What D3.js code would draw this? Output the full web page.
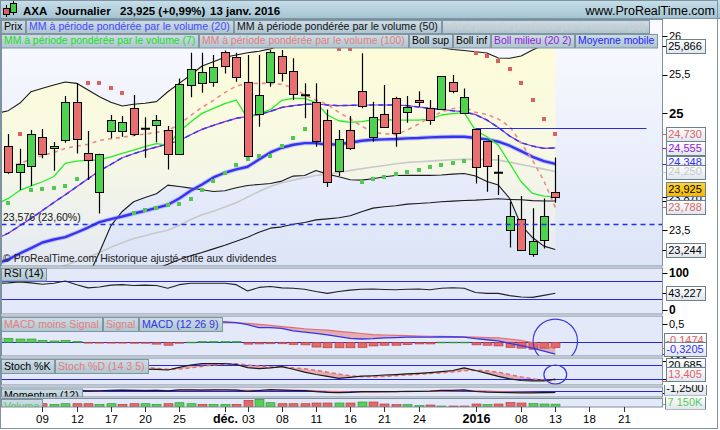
<!DOCTYPE html>
<html><head><meta charset="utf-8">
<script src="https://cdn.jsdelivr.net/npm/d3@7/dist/d3.min.js"></script>
<style>html,body{margin:0;padding:0;background:#fff}svg{display:block}</style>
</head><body>
<script>
// ---------------- DATA ----------------
const dates = ["03/11","04/11","05/11","06/11","09/11","10/11","11/11","12/11","13/11","16/11","17/11","18/11","19/11","20/11","23/11","24/11","25/11","26/11","27/11","30/11","01/12","02/12","03/12","04/12","07/12","08/12","09/12","10/12","11/12","14/12","15/12","16/12","17/12","18/12","21/12","22/12","23/12","24/12","28/12","29/12","30/12","31/12","04/01","05/01","06/01","07/01","08/01","11/01","12/01","13/01"];
const open  = [24.55,24.583,24.239,24.317,24.699,24.548,24.656,25.141,24.483,23.98,24.767,24.775,25.064,24.80,24.845,24.78,24.471,25.36,25.394,25.407,25.794,25.72,25.398,24.991,25.407,25.738,25.55,25.231,25.141,24.913,24.251,24.78,25.283,24.69,24.986,25.192,25.012,25.175,25.064,25.051,25.399,25.008,24.797,24.642,24.234,23.49,23.632,23.193,23.365,23.98];
const high  = [24.8,24.733,24.544,24.785,24.797,24.63,25.223,25.386,24.771,24.479,24.978,24.965,25.236,24.948,24.978,24.836,25.45,25.781,25.781,25.75,25.81,25.78,25.75,25.75,25.815,25.815,25.708,25.386,25.386,25.05,24.784,24.965,25.773,25.15,25.365,25.214,25.223,25.283,25.171,25.476,25.494,25.321,24.797,24.642,24.462,23.86,23.933,23.778,23.903,24.431];
const low   = [24.4,24.22,24.012,24.063,24.42,24.26,24.621,24.483,24.14,23.71,24.677,24.698,24.707,24.428,24.626,24.277,24.471,25.206,25.266,25.343,25.514,25.407,24.44,24.827,25.343,25.41,25.171,24.935,24.57,24.05,24.191,24.526,25.064,24.634,24.81,24.569,24.879,25.085,24.853,25.051,25.257,25.0,24.096,23.988,23.946,23.27,23.232,23.15,23.258,23.847];
const close = [24.6,24.239,24.347,24.729,24.471,24.574,25.141,24.664,24.393,24.479,24.909,24.887,24.729,24.80,24.913,24.471,25.373,25.567,25.527,25.591,25.609,25.471,24.449,25.236,25.785,25.514,25.249,25.231,24.643,24.119,24.664,24.548,25.098,24.956,24.827,24.741,25.076,25.15,24.909,25.476,25.283,25.205,24.311,24.324,24.234,23.675,23.232,23.348,23.675,23.925];
const volume = [7500,7500,7500,7500,8250,6750,8250,8250,8250,6750,8250,6750,8250,8250,6750,8250,10750,8250,6750,6750,6750,6750,16750,19250,10750,8250,8250,8250,10000,10000,10000,10000,12500,12500,7500,6250,6250,3750,5000,2500,2500,2500,7500,6250,7500,11250,10000,8750,7500,7150];
const sar = [null,23.847,24.732,24.01,24.019,24.04,24.066,24.148,25.386,25.386,25.322,25.257,23.718,23.752,23.782,23.812,23.834,23.902,24.014,24.13,24.229,24.328,24.414,24.453,24.453,24.582,24.685,24.801,24.92,null,25.83,25.824,24.118,24.156,24.182,24.221,24.247,24.272,24.311,24.337,24.363,24.388,25.782,25.739,25.678,25.575,25.395,25.171,24.93,24.73];
const movingAvg = [23.064,23.116,23.193,23.262,23.335,23.374,23.404,23.464,23.528,23.597,23.636,23.67,23.709,23.743,23.782,23.821,23.902,24.001,24.083,24.173,24.234,24.277,24.311,24.406,24.496,24.556,24.595,24.616,24.616,24.595,24.603,24.62,24.646,24.659,24.664,24.668,24.677,24.681,24.69,24.694,24.698,24.698,24.681,24.664,24.634,24.582,24.513,24.44,24.384,24.348];
const mmVol20 = [23.387,23.455,23.55,23.645,23.748,23.851,23.95,24.053,24.156,24.259,24.341,24.427,24.479,24.526,24.565,24.608,24.646,24.724,24.793,24.844,24.892,24.935,24.96,24.986,25.025,25.076,25.098,25.115,25.12,25.107,25.098,25.102,25.107,25.107,25.107,25.107,25.098,25.081,25.064,25.051,25.033,25.02,24.982,24.913,24.818,24.707,24.621,24.578,24.548,24.555];
const mmVol7 = [23.83,23.903,24.006,24.066,24.118,24.186,24.354,24.384,24.393,24.401,24.44,24.483,24.526,24.569,24.608,24.59,24.762,24.887,24.999,25.064,25.124,25.171,24.935,24.999,25.046,25.167,25.192,25.192,25.137,24.978,24.904,24.883,24.892,24.917,24.917,24.913,24.913,24.913,24.926,24.978,24.995,25.008,24.78,24.698,24.59,24.354,24.118,23.967,23.933,23.924];
const mmVol100 = [null,24.302,24.354,24.406,24.457,24.496,24.548,24.578,24.6,24.651,24.672,24.69,24.715,24.732,24.754,24.78,24.853,24.973,25.076,25.167,25.266,25.352,25.382,25.386,25.386,25.373,25.326,25.236,25.171,25.115,25.012,24.926,24.836,24.754,24.737,24.724,24.784,24.861,24.947,25.016,25.059,25.081,25.012,24.986,24.926,24.827,24.616,24.397,24.13,23.788];
const bollSup = [24.999,25.034,25.129,25.278,25.322,25.365,25.403,25.386,25.3,25.214,25.142,25.094,25.116,25.129,25.15,25.278,25.386,25.494,25.61,25.665,25.722,25.751,25.781,25.799,25.83,25.88,25.93,25.96,26.0,26.02,26.05,26.05,26.05,26.02,25.98,25.95,25.92,25.87,25.86,25.845,25.822,25.81,25.794,25.777,25.713,25.709,25.738,25.816,25.88,25.866];
const bollInf = [22.9,22.85,22.8,22.75,22.7,22.65,22.6,22.6,22.89,23.21,23.55,23.735,23.86,23.915,23.963,24.075,24.057,24.036,24.014,23.993,24.001,24.04,24.07,24.083,24.096,24.126,24.191,24.199,24.264,24.216,24.182,24.143,24.139,24.156,24.182,24.199,24.2,24.2,24.2,24.204,24.216,24.225,24.191,24.122,24.075,23.902,23.558,23.399,23.288,23.244];
const mmVol50 = [22.4,22.45,22.5,22.55,22.6,22.65,22.7,22.74,22.78,22.82,22.86,22.9,22.94,22.97,23.0,23.055,23.116,23.163,23.206,23.253,23.3,23.352,23.404,23.468,23.52,23.537,23.571,23.593,23.627,23.64,23.653,23.679,23.731,23.778,23.795,23.808,23.83,23.838,23.847,23.86,23.868,23.877,23.881,23.89,23.898,23.89,23.885,23.875,23.87,23.87];
const mmVol30 = [22.8,22.85,22.88,22.92,22.96,23.0,23.043,23.094,23.146,23.206,23.275,23.331,23.387,23.421,23.46,23.494,23.558,23.632,23.692,23.739,23.791,23.847,23.92,23.993,24.057,24.105,24.139,24.169,24.199,24.216,24.238,24.264,24.285,24.307,24.328,24.35,24.367,24.376,24.384,24.393,24.401,24.406,24.406,24.405,24.397,24.371,24.341,24.311,24.281,24.25];
const rsi = [65,66,68,66,63,65,70,62,55,57,61,62,60,61,60,54,62,65,65,65,65,62,48,56,58,55,54,52,47,43,47,50,52,52.5,51.5,51,52,52.5,51,54,55.4,54,45,43,43,38,35,34.3,38.5,43.227];
const macd = [0.42,0.42,0.42,0.45,0.45,0.45,0.5,0.48,0.44,0.43,0.45,0.46,0.45,0.45,0.45,0.41,0.47,0.52,0.55,0.56,0.56,0.54,0.48,0.40,0.40,0.38,0.31,0.28,0.245,0.2,0.153,0.11,0.09,0.1,0.12,0.13,0.14,0.14,0.14,0.145,0.145,0.14,0.1,0.07,0.04,-0.03,-0.09,-0.16,-0.24,-0.3205];
const macdSignal = [0.29,0.31,0.33,0.36,0.39,0.41,0.43,0.44,0.45,0.45,0.45,0.45,0.45,0.45,0.46,0.46,0.47,0.49,0.51,0.525,0.53,0.53,0.52,0.49,0.46,0.43,0.4,0.37,0.35,0.33,0.3,0.27,0.24,0.21,0.2,0.19,0.18,0.17,0.165,0.16,0.155,0.15,0.14,0.13,0.12,0.09,0.05,-0.01,-0.09,-0.1731];
const macdHist = [0.12,0.11,0.09,0.09,0.055,0.036,0.055,0.027,-0.02,-0.02,-0.02,-0.02,-0.025,-0.025,-0.05,-0.08,-0.025,0.005,0.025,0.025,0.025,0.025,-0.05,-0.045,-0.04,-0.04,-0.06,-0.07,-0.13,-0.15,-0.15,-0.15,-0.14,-0.1,-0.08,-0.08,-0.065,-0.045,-0.045,0.005,0.005,0.005,-0.07,-0.08,-0.1,-0.14,-0.16,-0.19,-0.16,-0.1474];
const stochK = [85,85,80,88,82,80,92,78,65,70,80,78,70,63,62,59,70,80,86,86,86,82,69,65,68,73,62,50,40,32,24,28,33,35,38,40,43,45,48,52,57,68,57,45,32,22,15,13,13,20.685];
const stochD = [82,82,83,84,84,83,85,83,78,74,74,75,75,70,66,62,63,68,74,80,84,85,80,76,72,71,68,64,58,50,42,35,31,30,32,35,38,41,44,47,51,56,58,56,50,40,30,22,16,13.405];
const momentum = [0.3,0.3,0.1,0.5,0.3,0.2,0.8,0.4,0.1,0.2,0.6,0.7,0.5,0.3,0.5,0.1,0.9,0.9,0.8,1.0,0.9,0.7,-0.2,0.4,1.1,0.8,0.4,0.3,-0.6,-1.2,-1.3,-1.2,-0.6,-0.4,-0.5,-0.6,-0.2,-0.3,-0.1,0.5,0.6,0.9,-0.4,-1.0,-1.1,-1.3,-1.6,-1.5,-1.3,-1.25];
const momentumSig = [0.3,0.3,0.25,0.3,0.3,0.3,0.4,0.45,0.4,0.35,0.4,0.45,0.5,0.45,0.45,0.4,0.5,0.6,0.7,0.8,0.85,0.85,0.6,0.55,0.6,0.7,0.65,0.55,0.2,-0.2,-0.6,-0.9,-1.0,-0.9,-0.7,-0.6,-0.45,-0.4,-0.3,-0.1,0.1,0.3,0.2,-0.1,-0.4,-0.7,-1.0,-1.2,-1.35,-1.35];
const xTickIdx = [4,7,10,13,16,20,22,25,28,31,34,37,42,46,49,52,55];
const xTickLab = ["09","12","17","20","25","déc.","03","08","11","16","21","24","2016","08","13","18","21"];
const xTickBold = ["déc.","2016"];
const priceTicks = [23.5,25,25.5,26];
const priceTickBold = [25];
const supportLevel = 23.576, supportLabel = "23,576 (23,60%)";
const trendLevel = 24.807, trendFrom = 42, trendTo = 57;
const title = {sym:"AXA", per:"Journalier", px:"23,925 (+0,99%)", date:"13 janv. 2016"};
const legend1 = ["Prix","MM à période pondérée par le volume (20)","MM à période pondérée par le volume (50)","MM à période pondérée par le volume (30)"];
const legend2 = ["MM à période pondérée par le volume (7)","MM à période pondérée par le volume (100)","Boll sup","Boll inf","Boll milieu (20 2)","Moyenne mobile"];

// ---------------- SETUP ----------------
const FONT = "'Liberation Sans', Arial, Helvetica, sans-serif";
const svg = d3.select("body").append("svg").attr("width",720).attr("height",430).attr("font-family",FONT);
const defs = svg.append("defs");
function grad(id, stops, y1, y2, user){
  const g = defs.append("linearGradient").attr("id",id).attr("x1",0).attr("x2",0).attr("y1",y1).attr("y2",y2);
  if(user) g.attr("gradientUnits","userSpaceOnUse");
  stops.forEach(s=>g.append("stop").attr("offset",s[0]).attr("stop-color",s[1]).attr("stop-opacity",s[2]==null?1:s[2]));
}
grad("hdr",[[0,"#c8dfe9"],[1,"#a3c3d1"]],0,1);
grad("leg",[[0,"#cddde5"],[1,"#adc4cf"]],0,1);
grad("mainbg",[[0,"#fbfbff"],[1,"#dce4f7"]],19,266,true);
grad("band",[[0,"#fdfdd6",1],[0.55,"#fbfbdc",0.75],[1,"#f7f7e4",0.25]],19,266,true);
grad("vbox",[[0,"#ffffff"],[1,"#dfe6ee"]],0,1);
grad("gold",[[0,"#ffd633"],[1,"#f5b800"]],0,1);

const XL = 1.5, XR = 662.5;
const panels = {main:[19.5,266], rsi:[268,314], macd:[316,356], stoch:[358,385], mom:[387,397], vol:[398.5,407]};
Object.entries(panels).forEach(([k,[a,b]])=>{
  defs.append("clipPath").attr("id","clip-"+k).append("rect").attr("x",XL).attr("y",a).attr("width",XR-XL).attr("height",b-a);
});
const x = d3.scaleLinear().domain([1,49]).range([8.3,555.3]);
const yMain = d3.scaleLinear().domain([23.5,25]).range([229.7,113.3]);
const yRsi = d3.scaleLinear().domain([30,70]).range([299.3,281]);
const yMacd = d3.scaleLinear().domain([0,0.5]).range([342.3,324]);
const yStoch = d3.scaleLinear().domain([20,80]).range([379.3,365]);
const yMom = d3.scaleLinear().domain([0,1]).range([391,389.8]);
const yVol = d3.scaleLinear().domain([0,21000]).range([407,398.6]);
const fmt = (v,d)=> (v<0?"-":"") + Math.abs(v).toFixed(d).replace(".",",");
const px = v => Math.round(v)+0.5;

svg.append("rect").attr("width",720).attr("height",430).attr("fill","#ffffff");

// header
svg.append("rect").attr("x",0).attr("y",0).attr("width",720).attr("height",19).attr("fill","url(#hdr)");
svg.append("line").attr("x1",0).attr("x2",720).attr("y1",18.5).attr("y2",18.5).attr("stroke","#7d94a1");
const icon = svg.append("g");
icon.append("line").attr("x1",6.5).attr("x2",6.5).attr("y1",5).attr("y2",17).attr("stroke","#000");
icon.append("rect").attr("x",3.5).attr("y",8.5).attr("width",6).attr("height",6).attr("fill","#e06060").attr("stroke","#000");
icon.append("line").attr("x1",13.5).attr("x2",13.5).attr("y1",1).attr("y2",15).attr("stroke","#000");
icon.append("rect").attr("x",10.5).attr("y",3.5).attr("width",6).attr("height",9).attr("fill","#44cc44").attr("stroke","#000");
const ht = svg.append("g").attr("font-weight","bold").attr("font-size",11.5).attr("fill","#000");
ht.append("text").attr("x",23).attr("y",15).text(title.sym);
ht.append("text").attr("x",55).attr("y",15).text(title.per);
ht.append("text").attr("x",120).attr("y",15).text(title.px);
ht.append("text").attr("x",210).attr("y",15).text(title.date);
svg.append("text").attr("x",715).attr("y",15).attr("text-anchor","end").attr("font-size",12.5).attr("fill","#000").text("www.ProRealTime.com");

// panel backgrounds
Object.entries(panels).forEach(([k,[a,b]])=>{
  svg.append("rect").attr("x",XL).attr("y",a).attr("width",XR-XL).attr("height",b-a)
    .attr("fill", k==="main" ? "url(#mainbg)" : "#e3e9f9").attr("stroke","none");
});

// ---------------- MAIN PANEL ----------------
const gm = svg.append("g").attr("clip-path","url(#clip-main)");
const lineOf = (ys, arr) => d3.line().defined(d=>d!=null).x((d,i)=>x(i)).y(d=>ys(d))(arr);
gm.append("path").attr("d", d3.area().x((d,i)=>x(i)).y0((d,i)=>yMain(bollInf[i])).y1((d,i)=>yMain(bollSup[i]))(close))
  .attr("fill","url(#band)");
const addLine = (g, ys, arr, stroke, w, dash, op) => g.append("path").attr("d", lineOf(ys, arr)).attr("fill","none")
  .attr("stroke",stroke).attr("stroke-width",w).attr("stroke-dasharray",dash||null).attr("stroke-opacity",op==null?1:op).attr("stroke-linejoin","round");
addLine(gm, yMain, mmVol30, "#c9c9c9", 1.6);
addLine(gm, yMain, mmVol50, "#1a1a1a", 1.1);
addLine(gm, yMain, bollSup, "#1a1a1a", 1.1);
addLine(gm, yMain, bollInf, "#1a1a1a", 1.1);
addLine(gm, yMain, movingAvg, "#8888ff", 4.5, null, 0.45);
addLine(gm, yMain, movingAvg, "#3535f0", 2.4);
addLine(gm, yMain, mmVol20, "#9a2ad0", 1.2);
addLine(gm, yMain, mmVol20, "#2b3cf0", 1.5, "5,4");
addLine(gm, yMain, mmVol7, "#22ee22", 1.3);
addLine(gm, yMain, mmVol100, "#ec8a8a", 1.6, "4,4");
// SAR
gm.selectAll("rect.sar").data(sar.map((v,i)=>({v,i})).filter(d=>d.v!=null)).enter().append("rect")
  .attr("x",d=>Math.round(x(d.i))-2).attr("y",d=>Math.round(yMain(d.v))-2).attr("width",4).attr("height",4)
  .attr("fill",d=> d.v>close[d.i] ? "#e05e5e" : "#4fc94f");
// candles
close.forEach((c,i)=>{
  const o = open[i], cx = px(x(i));
  gm.append("line").attr("x1",cx).attr("x2",cx).attr("y1",yMain(high[i])).attr("y2",yMain(low[i])).attr("stroke","#000").attr("stroke-width",1.2);
  if (o===c){
    gm.append("line").attr("x1",cx-4.5).attr("x2",cx+4.5).attr("y1",yMain(c)).attr("y2",yMain(c)).attr("stroke","#000").attr("stroke-width",2);
  } else {
    const yt = Math.round(yMain(Math.max(o,c)))+0.5, yb = Math.round(yMain(Math.min(o,c)))+0.5;
    gm.append("rect").attr("x",cx-4).attr("y",yt).attr("width",8).attr("height",Math.max(1,yb-yt))
      .attr("fill", c>o ? "#4fd24f" : "#e86f6f").attr("stroke","#000").attr("stroke-width",1);
  }
});
// horizontal levels
gm.append("line").attr("x1",XL).attr("x2",XR).attr("y1",px(yMain(supportLevel))).attr("y2",px(yMain(supportLevel)))
  .attr("stroke","#1f2fee").attr("stroke-width",1.3).attr("stroke-dasharray","5,4");
gm.append("line").attr("x1",x(trendFrom)).attr("x2",x(trendTo)).attr("y1",px(yMain(trendLevel))).attr("y2",px(yMain(trendLevel)))
  .attr("stroke","#2a2ae0").attr("stroke-width",1.2);
gm.append("text").attr("x",3).attr("y",yMain(supportLevel)-3).attr("font-size",10.5).attr("fill","#111").text(supportLabel);
gm.append("text").attr("x",3).attr("y",262).attr("font-size",10.5).attr("fill","#222").text("© ProRealTime.com  Historique ajusté suite aux dividendes");

// legend boxes
function boxRow(g, items, colors, x0, y, h, fs){
  let xx = x0;
  items.forEach((t,k)=>{
    const gg = g.append("g");
    const tx = gg.append("text").attr("x",xx+3).attr("y",y+h-3.2).attr("font-size",fs).attr("fill",colors[k]).text(t);
    const w = Math.round(tx.node().getComputedTextLength()+6);
    gg.insert("rect","text").attr("x",xx+0.5).attr("y",y+0.5).attr("width",w).attr("height",h).attr("fill","url(#leg)").attr("stroke","#7f95a2");
    xx += w+1;
  });
}
boxRow(svg, legend1, ["#000","#4848ff","#111","#cfcfcf"], 1, 20, 13, 10.6);
boxRow(svg, legend2, ["#22dd22","#e77d7d","#000","#000","#9420d4","#2222ff"], 1, 34, 13.5, 10.4);

// ---------------- RSI ----------------
const gr = svg.append("g").attr("clip-path","url(#clip-rsi)");
[70,30].forEach(l=>gr.append("line").attr("x1",XL).attr("x2",XR).attr("y1",px(yRsi(l))).attr("y2",px(yRsi(l))).attr("stroke","#2626e0").attr("stroke-width",1.1));
addLine(gr, yRsi, rsi, "#222", 1.1);
boxRow(gr, ["RSI (14)"], ["#000"], 1, 268, 12.5, 10.6);

// ---------------- MACD ----------------
const gc = svg.append("g").attr("clip-path","url(#clip-macd)");
gc.append("path").attr("d", d3.area().x((d,i)=>x(i)).y0((d,i)=>yMacd(macdSignal[i])).y1((d,i)=>yMacd(macd[i]))(macd))
  .attr("fill","#e27c7c").attr("fill-opacity",0.55);
gc.append("line").attr("x1",XL).attr("x2",XR).attr("y1",px(yMacd(0))).attr("y2",px(yMacd(0))).attr("stroke","#2626e0").attr("stroke-width",1.1);
macdHist.forEach((h,i)=>{
  const y0 = yMacd(0), y1 = yMacd(h);
  gc.append("rect").attr("x",Math.round(x(i))-4).attr("y",Math.min(y0,y1)).attr("width",9).attr("height",Math.max(0.8,Math.abs(y1-y0)))
    .attr("fill", h>=0 ? "#55cf55" : "#e46868").attr("stroke", h>=0 ? "#2f8f2f" : "#a83a3a").attr("stroke-width",0.6);
});
addLine(gc, yMacd, macdSignal, "#e07070", 1.2);
addLine(gc, yMacd, macd, "#3434ee", 1.3);
gc.append("ellipse").attr("cx",x(49)).attr("cy",yMacd(0.035)).attr("rx",x(49+1.95)-x(49)).attr("ry",Math.abs(yMacd(0.6)-yMacd(0)))
  .attr("fill","none").attr("stroke","#3a3ad8").attr("stroke-width",1.2);
boxRow(gc, ["MACD moins Signal","Signal","MACD (12 26 9)"], ["#e77d7d","#e77d7d","#3232e8"], 1, 317, 14, 10.6);

// ---------------- STOCH ----------------
const gs = svg.append("g").attr("clip-path","url(#clip-stoch)");
gs.append("path").attr("d", d3.area().x((d,i)=>x(i)).y0((d,i)=>yStoch(stochD[i])).y1((d,i)=>yStoch(stochK[i]))(stochK))
  .attr("fill","#e27c7c").attr("fill-opacity",0.55);
[80,20].forEach(l=>gs.append("line").attr("x1",XL).attr("x2",XR).attr("y1",px(yStoch(l))).attr("y2",px(yStoch(l))).attr("stroke","#2626e0").attr("stroke-width",1.1));
addLine(gs, yStoch, stochD, "#e07070", 1.5, "4,3");
addLine(gs, yStoch, stochK, "#1a1a1a", 1.2);
gs.append("ellipse").attr("cx",x(49)).attr("cy",yStoch(40)).attr("rx",x(50)-x(49)).attr("ry",Math.abs(yStoch(80)-yStoch(40)))
  .attr("fill","none").attr("stroke","#3a3ad8").attr("stroke-width",1.2);
boxRow(gs, ["Stoch %K","Stoch %D (14 3 5)"], ["#000","#e77d7d"], 1, 359, 14, 10.6);

// ---------------- MOMENTUM ----------------
const go = svg.append("g").attr("clip-path","url(#clip-mom)");
go.append("line").attr("x1",XL).attr("x2",XR).attr("y1",px(yMom(0))).attr("y2",px(yMom(0))).attr("stroke","#2626e0").attr("stroke-width",1.1);
addLine(go, yMom, momentumSig, "#e07070", 1.2);
addLine(go, yMom, momentum, "#1a1a1a", 1.2);
boxRow(go, ["Momentum (12)"], ["#000"], 1, 388.5, 14, 10.6);

// ---------------- VOLUME ----------------
const gv = svg.append("g").attr("clip-path","url(#clip-vol)");
volume.forEach((v,i)=>{
  const up = i===0 ? true : close[i] >= close[i-1];
  gv.append("rect").attr("x",Math.round(x(i))-4).attr("y",yVol(v)).attr("width",9).attr("height",yVol(0)-yVol(v))
    .attr("fill", up ? "#55cf55" : "#e46868").attr("stroke", up ? "#2f8f2f" : "#a83a3a").attr("stroke-width",0.6);
});
boxRow(gv, ["Volume"], ["#55cc55"], 1, 399, 14, 10.6);

// panel borders
Object.values(panels).forEach(([a,b])=>{
  svg.append("rect").attr("x",XL).attr("y",a).attr("width",XR-XL).attr("height",b-a).attr("fill","none").attr("stroke","#7f909e");
});

// ---------------- RIGHT AXES ----------------
const ga = svg.append("g").attr("font-size",11);
function tickLabel(y, t, bold, size){
  ga.append("line").attr("x1",XR).attr("x2",XR+5).attr("y1",px(y)).attr("y2",px(y)).attr("stroke","#000");
  ga.append("text").attr("x",669).attr("y",y).attr("dy","0.36em").attr("font-weight",bold?"bold":null).attr("font-size",size||11).attr("fill","#000").text(t);
}
priceTicks.forEach(v=>{
  const b = priceTickBold.includes(v);
  tickLabel(yMain(v), fmt(v, v%1===0?0:1), b, b?13:11);
});
tickLabel(Math.max(yRsi(100),273), "100", true, 12);
tickLabel(Math.min(yRsi(0),310), "0", true, 12);
tickLabel(yMacd(0.5), "0,5", false, 11);
tickLabel(Math.max(yStoch(100),361), "100", false, 11);

function valueLabels(list, panel, clip){
  const g = ga.append("g");
  if (clip){
    const id = "lc"+Math.round(panel[0]);
    defs.append("clipPath").attr("id",id).append("rect").attr("x",XR).attr("y",panel[0]-2).attr("width",60).attr("height",panel[1]-panel[0]+2.5);
    g.attr("clip-path","url(#"+id+")");
  }
  list.forEach(d=>{ d.y = d.ys(d.v); });
  const sorted = list.slice().sort((a,b)=>b.y-a.y);
  let prev = Infinity;
  sorted.forEach(d=>{ d.yy = Math.min(d.y, panel[1]-7, prev-9); prev = d.yy; });
  list.forEach(d=>{
    g.append("line").attr("x1",XR).attr("x2",XR+5).attr("y1",px(d.y)).attr("y2",px(d.y)).attr("stroke",d.tick||d.c);
    const t = g.append("text").attr("x",685).attr("y",d.yy).attr("dy","0.36em").attr("text-anchor","middle").attr("font-size",11).attr("fill",d.c).text(d.t);
    const w = Math.max(35, t.node().getComputedTextLength()+5);
    g.insert("rect", function(){ return t.node(); }).attr("x",px(685-w/2)).attr("y",px(d.yy-7)).attr("width",Math.round(w)).attr("height",14)
      .attr("fill", d.gold ? "url(#gold)" : "url(#vbox)").attr("stroke","#6e7f8e");
  });
}
const L = a => a[a.length-1];
valueLabels([
  {v:L(bollSup), ys:yMain, t:fmt(L(bollSup),3), c:"#000"},
  {v:L(sar), ys:yMain, t:fmt(L(sar),3), c:"#e06262"},
  {v:L(mmVol20), ys:yMain, t:fmt(L(mmVol20),3), c:"#9420d4"},
  {v:L(movingAvg), ys:yMain, t:fmt(L(movingAvg),3), c:"#2f2fff"},
  {v:L(mmVol30), ys:yMain, t:fmt(L(mmVol30),3), c:"#c8c8c8"},
  {v:L(mmVol50), ys:yMain, t:fmt(L(mmVol50),3), c:"#000"},
  {v:L(mmVol100), ys:yMain, t:fmt(L(mmVol100),3), c:"#e06262"},
  {v:L(close), ys:yMain, t:fmt(L(close),3), c:"#000", gold:true},
  {v:L(bollInf), ys:yMain, t:fmt(L(bollInf),3), c:"#000"}
], panels.main, false);
valueLabels([{v:L(rsi), ys:yRsi, t:fmt(L(rsi),3), c:"#000"}], panels.rsi, false);
valueLabels([
  {v:L(macdHist), ys:yMacd, t:fmt(L(macdHist),4), c:"#e06262"},
  {v:L(macd), ys:yMacd, t:fmt(L(macd),4), c:"#2f2fff"}
], panels.macd, false);
valueLabels([
  {v:L(stochK), ys:yStoch, t:fmt(L(stochK),3), c:"#000"},
  {v:L(stochD), ys:yStoch, t:fmt(L(stochD),3), c:"#e06262"}
], [358,381], false);
valueLabels([{v:L(momentum), ys:yMom, t:fmt(L(momentum),4), c:"#000"}], [387,395], true);
valueLabels([{v:L(volume), ys:yVol, t:"7 150K", c:"#55cc55"}], [399,409], true);

// ---------------- X AXIS ----------------
const gx = svg.append("g").attr("font-size",11.5);
xTickIdx.forEach((k,j)=>{
  const xx = px(x(k));
  gx.append("line").attr("x1",xx).attr("x2",xx).attr("y1",407).attr("y2",412).attr("stroke","#333");
  const b = xTickBold.includes(xTickLab[j]);
  gx.append("text").attr("x",xx).attr("y",423).attr("text-anchor","middle").attr("font-weight",b?"bold":null)
    .attr("font-size", b?12.5:11.5).attr("fill","#000").text(xTickLab[j]);
});

// outer frame
svg.append("rect").attr("x",0.5).attr("y",0.5).attr("width",717).attr("height",428).attr("fill","none").attr("stroke","#8093a0");
</script>
</body></html>
